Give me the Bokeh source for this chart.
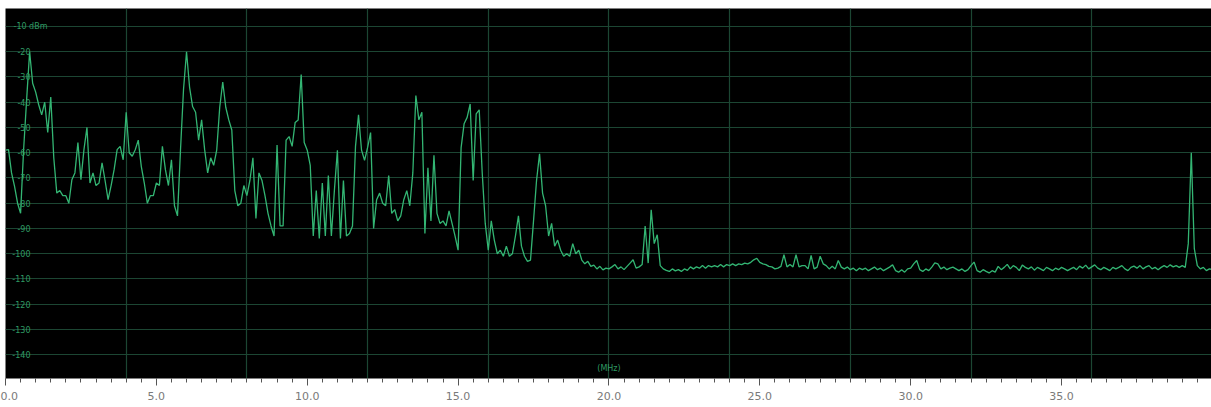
import numpy as np
from bokeh.plotting import figure
from bokeh.models import Range1d, SingleIntervalTicker, PrintfTickFormatter
from bokeh.core.properties import value
from bokeh.embed import file_html
from bokeh.resources import INLINE

# Sweep settings (MHz) of the spectrum trace
START_MHZ = 0.0
STEP_MHZ = 0.1

# Trace level in dBm at each sweep point
levels = [
    -59, -58.8, -68, -73.3, -80, -84, -58.8, -39, -20, -32.5,
    -36, -41, -45, -40, -52, -38, -62, -76, -75, -77,
    -77, -80, -70.7, -68, -56, -70.7, -58.8, -50, -72, -68,
    -73, -72, -64, -71, -78.6, -73, -66.7, -58.8, -57.5, -62.8,
    -44, -60, -61.4, -58.8, -55, -65.4, -72, -80, -77, -77,
    -72, -73, -57.5, -66.7, -73, -62.8, -81, -85, -58.8, -35,
    -20, -34, -41.7, -44, -55, -47, -58.8, -68, -62, -65,
    -59, -42, -32, -42, -47, -51, -75, -81, -80, -73,
    -77, -71, -62, -86, -68, -71, -77, -84, -89, -93,
    -57, -89, -89, -55, -53.6, -57.5, -48, -47, -29, -56,
    -59, -65, -93, -75, -94, -72, -93, -69, -93, -75,
    -59, -94, -71, -93, -92, -89, -57.5, -45, -59, -63,
    -58, -52, -90, -78.6, -76, -80, -81, -69, -84, -82.5,
    -87, -85, -78.6, -75, -81, -68, -37.4, -47, -44, -92,
    -66, -87, -61, -84, -88, -87, -89, -83, -88, -93,
    -98.6, -58, -48.5, -46, -40.7, -71, -44.6, -43, -68, -88,
    -98.6, -87, -94.6, -100, -98.6, -101, -97, -101, -100, -93,
    -85, -97, -101, -103, -102.5, -87, -71, -60.4, -76, -81,
    -93, -88, -97, -94.6, -98.6, -101, -100, -101, -96, -100,
    -98.6, -102.5, -104, -103, -105, -104.5, -106, -105, -106.4, -105.7,
    -106, -105.2, -104.3, -106, -105.2, -106.3, -105, -103.7, -102.4, -105.7,
    -105.2, -104.3, -89, -103.7, -82.6, -96, -92.5, -104.7, -106, -106.6,
    -107, -106, -106.8, -106.3, -107, -106, -106.6, -105.2, -106, -105.2,
    -105.7, -104.7, -105.7, -104.7, -105.2, -104.7, -105.2, -104.3, -105.2, -104.3,
    -104.7, -104, -104.7, -104, -104.3, -103.7, -104, -103.4, -102.4, -101.8,
    -103.4, -104, -104.3, -105, -105.2, -106, -105.7, -105, -100.4, -105.2,
    -104.3, -105.2, -100.4, -105.2, -104.7, -104.7, -106, -100.7, -106, -105.3,
    -101, -104, -104.7, -106, -105, -106, -102.7, -105.3, -106, -105.3,
    -106.3, -105.7, -106.7, -105.7, -106.3, -105.7, -106.7, -106, -105.3, -106.3,
    -105.7, -106.7, -106, -105.3, -104.4, -106.7, -107.3, -106.3, -107.3, -106,
    -105.7, -104, -102.7, -106.3, -107, -106, -106.7, -105.3, -103.6, -104,
    -106, -105.3, -106.3, -105.7, -105.3, -106, -106.7, -106, -107, -106.3,
    -104.7, -103.3, -106.7, -107.3, -106.3, -107, -107.6, -106.7, -107.3, -105,
    -106.3, -105.4, -104.2, -106, -104.7, -105.4, -106.7, -104.5, -105.4, -106,
    -105.2, -106.5, -105.4, -106, -106.7, -105.4, -106, -106.7, -105.7, -106.3,
    -105.4, -106, -106.7, -106, -105.4, -106.3, -104.9, -105.7, -104.5, -106,
    -105.2, -104.4, -105.7, -106.3, -105.4, -106, -106.7, -105.4, -106, -105.4,
    -104.7, -106, -106.7, -105.4, -104.9, -105.7, -104.7, -106, -105.2, -104.7,
    -106, -105.4, -106.3, -105.4, -104.7, -105.4, -104.4, -105.2, -104.7, -105.4,
    -104.7, -105.4, -96, -60, -98, -104.7, -106, -105.4, -106.7, -106,
    -106.3,
]

# Level labels drawn inside the screen
level_label_values = [-10, -20, -30, -40, -50, -60, -70, -80, -90, -100, -110, -120, -130, -140]
level_label_texts = ["-10 dBm", "-20", "-30", "-40", "-50", "-60", "-70", "-80", "-90",
                     "-100", "-110", "-120", "-130", "-140"]
unit_label = "(MHz)"
unit_label_x = 20.0
unit_label_y = -145.4

freq = np.round(START_MHZ + STEP_MHZ * np.arange(len(levels)), 2)

GREEN = "#33b573"
GRID = "#1c4633"
LABEL_GREEN = "#2f9a63"

p = figure(width=1211, height=407, output_backend="svg", toolbar_location=None,
           x_range=Range1d(0.0, 39.97), y_range=Range1d(-149.4, -2.9),
           min_border_left=5, min_border_right=0, min_border_top=8, min_border_bottom=29)
p.background_fill_color = "black"
p.border_fill_color = "white"
p.outline_line_color = None

p.xgrid.ticker = SingleIntervalTicker(interval=4)
p.ygrid.ticker = SingleIntervalTicker(interval=10)
p.grid.grid_line_color = GRID
p.grid.grid_line_width = 1.2

p.yaxis.visible = False
ax = p.xaxis[0]
ax.ticker = SingleIntervalTicker(interval=5, num_minor_ticks=10)
ax.formatter = PrintfTickFormatter(format="%.1f")
ax.axis_line_color = None
ax.major_tick_in = 0
ax.major_tick_out = 7
ax.minor_tick_in = 0
ax.minor_tick_out = 4
ax.major_tick_line_color = "#555555"
ax.minor_tick_line_color = "#555555"
ax.major_label_text_color = "#7a7a7a"
ax.major_label_text_font = "DejaVu Sans"
ax.major_label_text_font_size = "11px"
ax.major_label_standoff = 6

p.line(freq, levels, line_color=GREEN, line_width=1.3)

# level labels
p.text(x=[0.0] * (len(level_label_values) - 1), y=level_label_values[1:], text=level_label_texts[1:],
       text_align="right", text_baseline="middle", x_offset=25,
       text_font=value("DejaVu Sans"), text_font_size="8px", text_color=LABEL_GREEN)
p.text(x=[0.0], y=level_label_values[:1], text=level_label_texts[:1],
       text_align="left", text_baseline="middle", x_offset=8,
       text_font=value("DejaVu Sans"), text_font_size="8px", text_color=LABEL_GREEN)
p.text(x=[unit_label_x], y=[unit_label_y], text=[unit_label],
       text_align="center", text_baseline="middle",
       text_font=value("DejaVu Sans"), text_font_size="8px", text_color=LABEL_GREEN)

open("out.html", "w").write(file_html(p, INLINE))
